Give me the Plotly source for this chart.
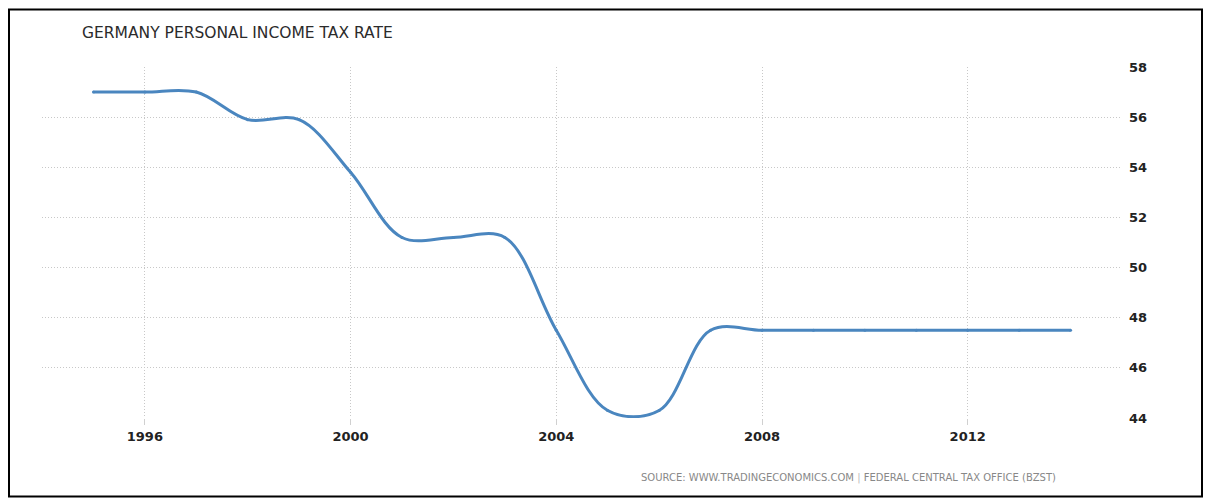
import plotly.graph_objects as go

years = list(range(1995, 2015))
rates = [57.0, 57.0, 57.0, 55.9, 55.9, 53.8, 51.2, 51.2, 51.2, 47.5,
         44.3, 44.3, 47.5, 47.5, 47.5, 47.5, 47.5, 47.5, 47.5, 47.5]
title_text = "GERMANY PERSONAL INCOME TAX RATE"
source_text = "SOURCE: WWW.TRADINGECONOMICS.COM"
source_text2 = "FEDERAL CENTRAL TAX OFFICE (BZST)"
x_tick_vals = [1996, 2000, 2004, 2008, 2012]
y_tick_vals = [44, 46, 48, 50, 52, 54, 56, 58]

OFF = 8  # page body margin offset
W, H = 1211 - 2 * OFF, 498 - OFF
L, R, T, B = 42 - OFF, 1122 - OFF, 66.5 - OFF, 418 - OFF

def px(x):
    return (x - OFF - L) / (R - L)

def py(y):
    return (B - (y - OFF)) / (B - T)

fig = go.Figure()
fig.add_trace(go.Scatter(
    x=years, y=rates, mode="lines+markers",
    line=dict(color="#4a86bf", width=3, shape="spline", smoothing=1),
    marker=dict(size=3, color="#4a86bf"),
    hoverinfo="x+y", showlegend=False,
))

grid = dict(showgrid=True, gridcolor="#c8c8c8", griddash="1px,2px", gridwidth=1, zeroline=False)
fig.update_layout(
    width=W, height=H,
    margin=dict(l=L, r=W - R, t=T, b=H - B, autoexpand=False),
    paper_bgcolor="white", plot_bgcolor="white",
    font=dict(family="DejaVu Sans", color="#222222"),
    xaxis=dict(range=[1994.0, 2015.0], tickvals=x_tick_vals,
               ticktext=[str(v) for v in x_tick_vals],
               ticks="outside", ticklen=6, tickcolor="#d0d0d0",
               tickfont=dict(size=13, color="#222222", weight="bold"),
               showline=False, **grid),
    yaxis=dict(range=[44, 58], tickvals=y_tick_vals, side="right",
               ticks="", ticklabelstandoff=6,
               tickfont=dict(size=13, color="#222222", weight="bold"),
               showline=False, **grid),
    shapes=[dict(type="rect", xref="paper", yref="paper",
                 x0=px(OFF + 1), x1=px(OFF + W - 1), y0=py(OFF + H - 1.3), y1=py(OFF + 1),
                 line=dict(color="black", width=2), layer="above")],
    annotations=[
        dict(text=title_text, xref="paper", yref="paper",
             x=px(80), y=py(32.5), xanchor="left", yanchor="middle",
             showarrow=False, font=dict(size=15.5, color="#2b2b2b")),
        dict(text=source_text + " <span style='color:#bbbbbb'>|</span> " + source_text2,
             xref="paper", yref="paper",
             x=px(1058), y=py(478), xanchor="right", yanchor="middle",
             showarrow=False, font=dict(size=10, color="#888888")),
    ],
)
fig.write_html("out.html")
